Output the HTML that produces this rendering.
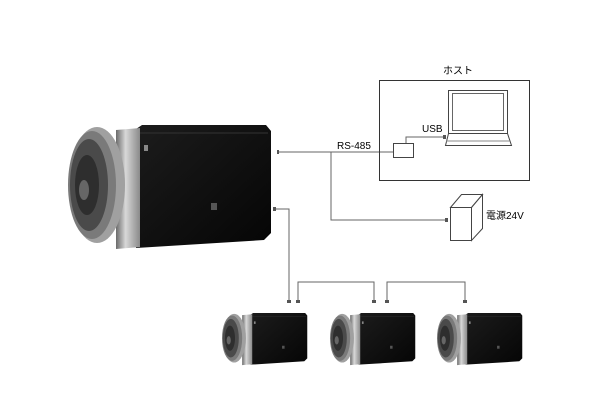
<!DOCTYPE html>
<html><head><meta charset="utf-8"><style>
html,body{margin:0;padding:0;background:#fff;}
svg{display:block}
text{font-family:"Liberation Sans","Noto Sans CJK JP",sans-serif;font-size:10px;fill:#000}
</style></head><body>
<svg width="600" height="420" viewBox="0 0 600 420" xmlns="http://www.w3.org/2000/svg">
<defs>
<linearGradient id="sil" x1="0" x2="1" y1="0" y2="0">
<stop offset="0" stop-color="#6a6a6a"/><stop offset="0.4" stop-color="#d8d8d8"/><stop offset="0.7" stop-color="#b0b0b0"/><stop offset="1" stop-color="#8a8a8a"/></linearGradient>
<linearGradient id="blk" x1="0" x2="1" y1="0" y2="1">
<stop offset="0" stop-color="#1c1c1c"/><stop offset="1" stop-color="#050505"/></linearGradient>
<g id="cam">
<polygon points="136,129 142,125 266,125 271,131 271,233 264,240 136,248" fill="url(#blk)"/>
<line x1="140" y1="133" x2="268" y2="133" stroke="#333" stroke-width="1"/>
<rect x="211" y="203" width="6" height="7" fill="#555"/>
<polygon points="116,130 140,128 140,247 116,249" fill="url(#sil)"/>
<ellipse cx="97" cy="185" rx="28" ry="58" fill="#a0a0a0"/>
<ellipse cx="92" cy="185" rx="24" ry="54" fill="#7a7a7a"/>
<ellipse cx="89" cy="185" rx="19" ry="46" fill="#4a4a4a"/>
<ellipse cx="87" cy="185" rx="12" ry="30" fill="#2e2e2e"/>
<ellipse cx="84" cy="190" rx="5" ry="10" fill="#666"/>
<rect x="144" y="145" width="4" height="6" fill="#888"/>
</g>
</defs>
<use href="#cam"/>
<use href="#cam" transform="translate(222,313) scale(0.42) translate(-68,-125)"/>
<use href="#cam" transform="translate(330,313) scale(0.42) translate(-68,-125)"/>
<use href="#cam" transform="translate(437,313) scale(0.42) translate(-68,-125)"/>
<g stroke="#666" stroke-width="1" fill="none">
<polyline points="278,152 393,152"/>
<polyline points="331,152 331,220 446,220"/>
<polyline points="406,143 406,137 444,137"/>
<polyline points="276,209 289,209 289,302"/>
<polyline points="298,302 298,282 374,282 374,302"/>
<polyline points="387,302 387,282 465,282 465,302"/>
</g>
<g fill="#555">
<rect x="277" y="150" width="2" height="4"/><rect x="273" y="207" width="3" height="4"/>
<rect x="443" y="135" width="3" height="4"/><rect x="445" y="218" width="3" height="4"/>
<rect x="287" y="300" width="4" height="3"/><rect x="296" y="300" width="4" height="3"/>
<rect x="372" y="300" width="4" height="3"/><rect x="385" y="300" width="4" height="3"/>
<rect x="463" y="300" width="4" height="3"/>
</g>
<rect x="379.5" y="80.5" width="150" height="100" fill="none" stroke="#333"/>
<text x="443" y="74">ホスト</text>
<rect x="393.5" y="143.5" width="20" height="14" fill="#fff" stroke="#444"/>
<text x="337" y="149">RS-485</text>
<text x="422" y="132">USB</text>
<rect x="448.5" y="90.5" width="59" height="43" fill="#fff" stroke="#444"/>
<rect x="452.5" y="93.5" width="51" height="37" fill="#fff" stroke="#666"/>
<polygon points="448.5,133.5 507.5,133.5 511.5,145.5 445.5,145.5" fill="#fff" stroke="#444"/>
<line x1="446" y1="141" x2="510" y2="141" stroke="#888"/>
<polygon points="450.5,207.5 461.5,194.5 482.5,194.5 471.5,207.5" fill="#fff" stroke="#444"/>
<polygon points="471.5,207.5 482.5,194.5 482.5,228.5 471.5,240.5" fill="#fff" stroke="#444"/>
<rect x="450.5" y="207.5" width="21" height="33" fill="#fff" stroke="#444"/>
<text x="486" y="219">電源24V</text>
</svg>
</body></html>
